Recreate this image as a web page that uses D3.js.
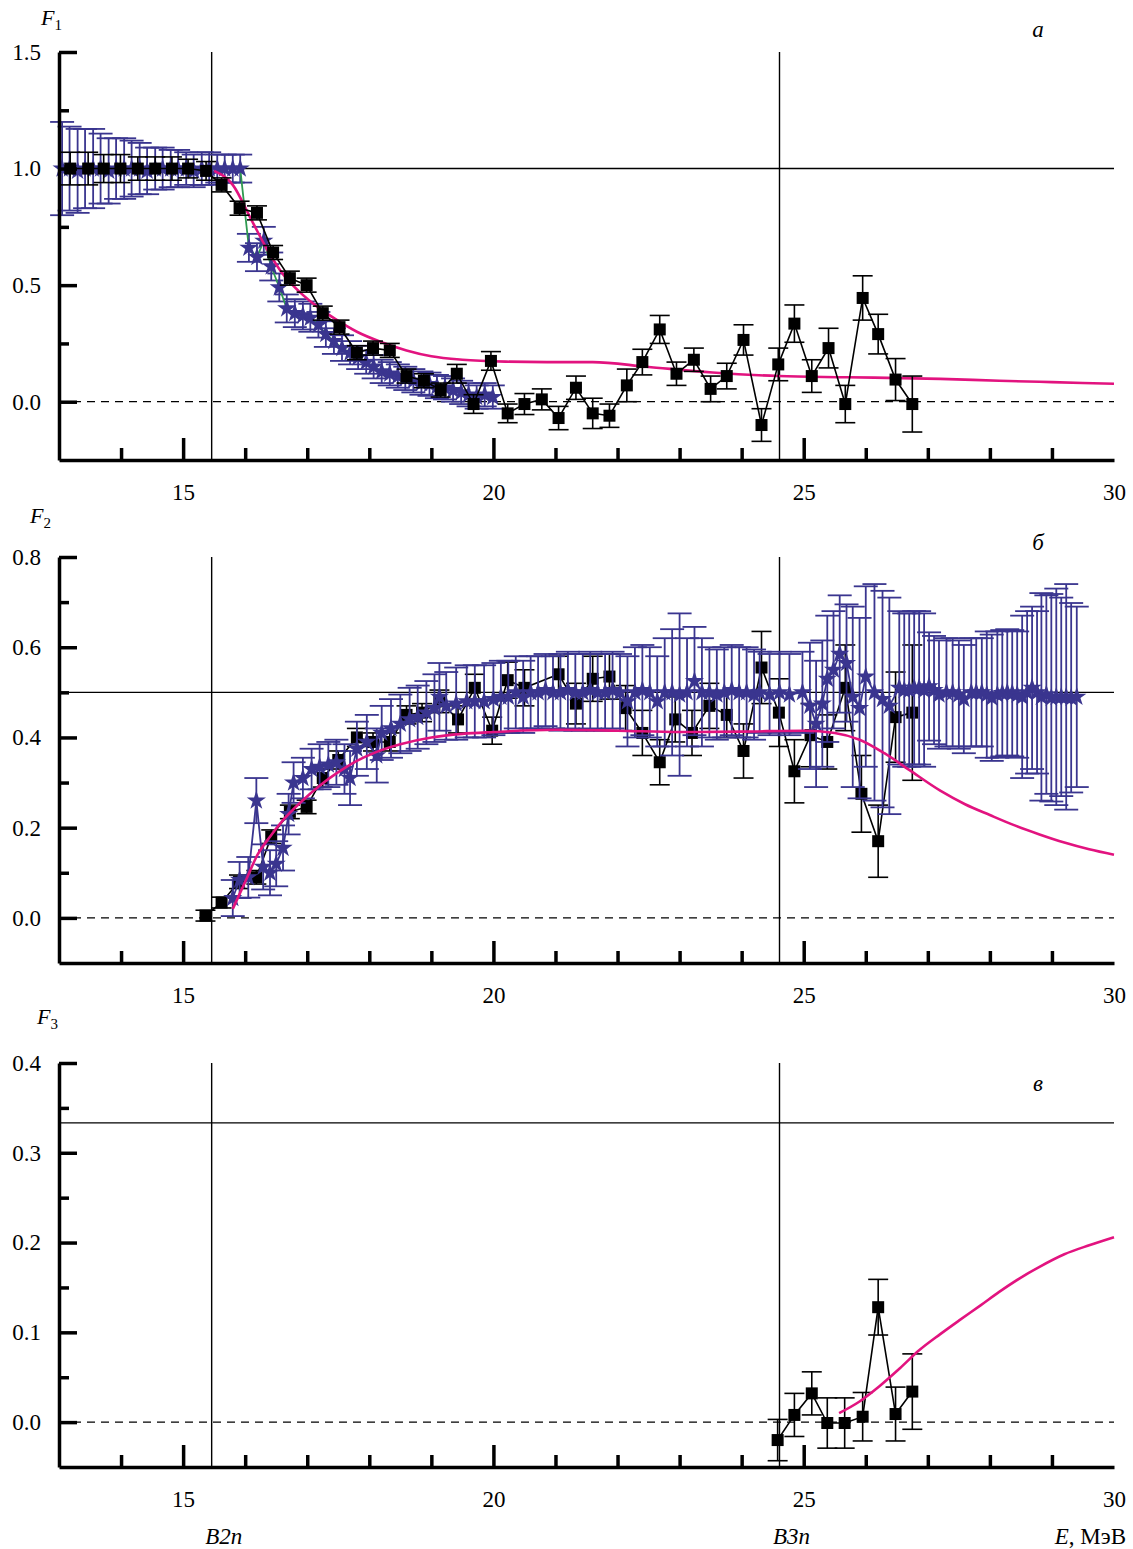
<!DOCTYPE html>
<html>
<head>
<meta charset="utf-8">
<script src="https://cdn.jsdelivr.net/npm/d3@7"></script>
<style>
  body { margin: 0; background: #fff; }
  svg { display: block; }
  text { font-family: "Liberation Serif", "DejaVu Serif", serif; fill: #000; }
</style>
</head>
<body>
<svg id="chart" width="1133" height="1549"></svg>
<script>
// E (MeV) range shared by all three panels
const eDomain = [13, 30];
const xTickLabels = [15, 20, 25, 30];
const xMinorTicks = [14, 16, 17, 18, 19, 21, 22, 23, 24, 26, 27, 28, 29];
const xMajorTicks = [15, 20, 25];

// threshold energies
const thresholds = [15.46, 24.61];
const thresholdLabels = ['B2n', 'B3n'];

// rows: [E, F, dF]
const aSquares = [
  [13.18,1.0,0.07],[13.47,1.0,0.07],[13.72,1.0,0.06],[13.99,1.0,0.06],[14.27,1.0,0.05],[14.55,1.0,0.05],
  [14.82,1.0,0.05],[15.08,1.0,0.04],[15.37,0.99,0.04],[15.62,0.93,0.03],[15.91,0.83,0.03],[16.19,0.81,0.03],
  [16.45,0.64,0.03],[16.72,0.53,0.03],[16.99,0.50,0.03],[17.25,0.38,0.03],[17.52,0.32,0.03],[17.80,0.21,0.03],
  [18.06,0.23,0.03],[18.33,0.22,0.03],[18.60,0.11,0.03],[18.88,0.09,0.03],[19.15,0.05,0.03],[19.41,0.12,0.04],
  [19.68,-0.01,0.04],[19.96,0.175,0.04],[20.23,-0.05,0.04],[20.50,-0.01,0.045],[20.78,0.01,0.045],[21.05,-0.07,0.05],
  [21.33,0.06,0.05],[21.60,-0.05,0.065],[21.87,-0.06,0.05],[22.15,0.07,0.07],[22.40,0.17,0.055],[22.68,0.31,0.06],
  [22.95,0.12,0.05],[23.23,0.18,0.05],[23.50,0.055,0.055],[23.76,0.11,0.055],[24.03,0.265,0.065],[24.32,-0.10,0.07],
  [24.59,0.16,0.07],[24.85,0.335,0.08],[25.13,0.11,0.07],[25.40,0.23,0.085],[25.67,-0.01,0.08],[25.95,0.445,0.095],
  [26.20,0.29,0.085],[26.48,0.095,0.09],[26.75,-0.01,0.12]
];
const aStars = [
  [13.05,1.0,0.2],[13.17,1.0,0.18],[13.30,0.99,0.18],[13.42,1.0,0.17],[13.55,1.0,0.17],[13.67,1.0,0.15],
  [13.80,0.99,0.14],[13.92,1.0,0.13],[14.05,1.0,0.13],[14.17,1.0,0.12],[14.30,1.0,0.11],[14.42,0.99,0.10],
  [14.55,1.0,0.09],[14.67,1.0,0.09],[14.80,1.0,0.08],[14.92,1.0,0.08],[15.05,1.0,0.07],[15.17,0.99,0.07],
  [15.30,1.0,0.07],[15.42,1.0,0.07],[15.55,1.0,0.06],[15.67,1.0,0.06],[15.80,1.0,0.06],[15.92,1.0,0.06],
  [16.06,0.66,0.06],[16.19,0.62,0.06],[16.30,0.69,0.06],[16.42,0.58,0.06],[16.55,0.49,0.06],[16.67,0.40,0.06],
  [16.80,0.38,0.06],[16.93,0.37,0.06],[17.05,0.36,0.06],[17.18,0.33,0.055],[17.30,0.29,0.055],[17.43,0.26,0.055],
  [17.56,0.23,0.055],[17.69,0.21,0.05],[17.82,0.19,0.05],[17.95,0.17,0.05],[18.07,0.15,0.05],[18.20,0.13,0.05],
  [18.33,0.12,0.05],[18.46,0.11,0.05],[18.58,0.10,0.05],[18.71,0.09,0.05],[18.84,0.08,0.05],[18.97,0.075,0.05],
  [19.09,0.065,0.05],[19.22,0.06,0.05],[19.35,0.05,0.05],[19.48,0.04,0.05],[19.60,0.03,0.05],[19.73,0.02,0.05],
  [19.86,0.03,0.05],[19.99,0.02,0.05]
];
// rows: [E, F]
const aTheory = [
  [15.5,0.99],[15.8,0.93],[16.1,0.78],[16.35,0.655],[16.6,0.55],[16.88,0.47],[17.15,0.41],[17.45,0.355],
  [17.8,0.30],[18.2,0.255],[18.6,0.22],[19.0,0.195],[19.5,0.18],[20.2,0.172],[20.86,0.17],[21.6,0.17],
  [22.47,0.15],[23.53,0.125],[24.6,0.11],[25.7,0.105],[27.2,0.098],[28.15,0.09],[29.0,0.084],[30.0,0.077]
];

const bSquares = [
  [15.36,0.005,0.012],[15.62,0.034,0.012],[15.90,0.08,0.015],[16.18,0.09,0.015],[16.42,0.18,0.015],[16.72,0.235,0.015],
  [16.99,0.246,0.015],[17.25,0.31,0.02],[17.50,0.35,0.02],[17.80,0.40,0.02],[18.06,0.39,0.02],[18.33,0.39,0.02],
  [18.60,0.45,0.02],[18.85,0.455,0.02],[19.13,0.48,0.025],[19.43,0.44,0.03],[19.70,0.51,0.03],[19.98,0.415,0.03],
  [20.23,0.527,0.04],[20.50,0.51,0.04],[21.05,0.54,0.04],[21.33,0.475,0.045],[21.60,0.53,0.05],[21.87,0.535,0.05],
  [22.13,0.465,0.05],[22.40,0.41,0.05],[22.68,0.345,0.05],[22.93,0.44,0.05],[23.20,0.41,0.05],[23.48,0.47,0.05],
  [23.76,0.45,0.05],[24.03,0.37,0.06],[24.32,0.555,0.08],[24.60,0.455,0.075],[24.85,0.325,0.07],[25.11,0.405,0.07],
  [25.38,0.39,0.06],[25.67,0.51,0.095],[25.93,0.275,0.085],[26.20,0.17,0.08],[26.48,0.445,0.1],[26.75,0.455,0.15]
];
const bStars = [
  [15.80,0.044,0.04],[15.91,0.084,0.04],[16.05,0.09,0.045],[16.18,0.26,0.05],[16.29,0.113,0.05],[16.40,0.10,0.05],
  [16.50,0.12,0.05],[16.61,0.155,0.05],[16.70,0.23,0.045],[16.78,0.30,0.045],[16.93,0.31,0.045],[17.07,0.33,0.045],
  [17.20,0.335,0.05],[17.34,0.34,0.05],[17.47,0.345,0.05],[17.60,0.33,0.055],[17.69,0.31,0.06],[17.80,0.375,0.06],
  [17.96,0.39,0.06],[18.12,0.36,0.06],[18.20,0.41,0.06],[18.35,0.42,0.065],[18.50,0.43,0.065],[18.65,0.44,0.07],
  [18.78,0.445,0.07],[18.92,0.455,0.07],[19.05,0.465,0.075],[19.13,0.49,0.075],[19.24,0.47,0.075],[19.40,0.475,0.08],
  [19.57,0.48,0.08],[19.70,0.48,0.08],[19.85,0.48,0.08],[20.00,0.485,0.08],
  [20.12,0.49,0.08],[20.24,0.49,0.08],[20.36,0.50,0.08],[20.48,0.49,0.08],[20.60,0.50,0.08],[20.72,0.50,0.08],
  [20.84,0.505,0.08],[20.96,0.50,0.08],[21.08,0.50,0.085],[21.20,0.505,0.085],[21.32,0.50,0.085],[21.44,0.50,0.085],
  [21.56,0.505,0.085],[21.68,0.50,0.085],[21.80,0.50,0.085],[21.92,0.505,0.085],[22.04,0.50,0.085],
  [22.16,0.48,0.1],[22.28,0.50,0.1],[22.40,0.505,0.1],[22.52,0.50,0.1],[22.64,0.48,0.1],
  [22.76,0.50,0.12],[22.88,0.50,0.14],[23.00,0.495,0.18],[23.12,0.50,0.12],[23.24,0.525,0.12],[23.36,0.50,0.12],
  [23.48,0.50,0.1],[23.60,0.495,0.1],[23.72,0.50,0.1],[23.84,0.505,0.1],[23.96,0.50,0.1],[24.08,0.50,0.1],[24.20,0.495,0.1],
  [24.29,0.50,0.09],[24.45,0.495,0.09],[24.61,0.50,0.09],[24.77,0.495,0.09],[24.98,0.50,0.09],
  [25.10,0.47,0.14],[25.20,0.43,0.14],[25.30,0.475,0.14],[25.38,0.53,0.14],
  [25.48,0.55,0.13],[25.58,0.585,0.13],[25.69,0.565,0.13],
  [25.79,0.49,0.2],[25.90,0.465,0.2],[26.00,0.535,0.2],
  [26.14,0.50,0.24],[26.27,0.485,0.24],[26.38,0.47,0.24],
  [26.54,0.51,0.17],[26.62,0.505,0.17],[26.70,0.505,0.17],[26.78,0.51,0.17],[26.86,0.51,0.17],[26.94,0.505,0.17],
  [27.02,0.513,0.12],[27.10,0.505,0.12],[27.18,0.495,0.12],[27.30,0.50,0.12],[27.40,0.50,0.12],[27.50,0.495,0.12],
  [27.58,0.485,0.12],[27.70,0.50,0.12],[27.78,0.50,0.12],[27.87,0.50,0.12],
  [27.95,0.495,0.14],[28.03,0.488,0.14],[28.12,0.495,0.14],[28.20,0.498,0.14],[28.28,0.50,0.14],[28.36,0.498,0.14],[28.44,0.495,0.14],
  [28.52,0.49,0.18],[28.60,0.50,0.18],[28.68,0.51,0.18],[28.76,0.50,0.18],
  [28.83,0.49,0.23],[28.91,0.495,0.22],[28.99,0.488,0.23],[29.07,0.49,0.24],[29.15,0.49,0.22],[29.23,0.49,0.25],
  [29.31,0.488,0.21],[29.40,0.49,0.2]
];
const bTheory = [
  [15.8,0.02],[16.0,0.08],[16.2,0.14],[16.4,0.18],[16.6,0.215],[16.9,0.257],[17.2,0.293],[17.5,0.323],
  [17.8,0.348],[18.1,0.367],[18.5,0.385],[19.0,0.40],[19.5,0.408],[20.0,0.412],[21.0,0.417],[22.0,0.415],
  [23.0,0.412],[24.0,0.413],[25.0,0.415],[25.5,0.41],[25.9,0.395],[26.3,0.365],[26.7,0.328],[27.2,0.282],
  [27.6,0.252],[28.0,0.228],[28.4,0.205],[28.8,0.185],[29.2,0.167],[29.6,0.152],[30.0,0.14]
];

const cSquares = [
  [24.58,-0.02,0.023],[24.85,0.008,0.024],[25.13,0.032,0.024],[25.38,-0.001,0.028],[25.66,-0.001,0.028],
  [25.95,0.006,0.027],[26.20,0.128,0.031],[26.48,0.009,0.03],[26.75,0.034,0.042]
];
const cTheory = [
  [25.57,0.01],[25.9,0.023],[26.22,0.04],[26.55,0.06],[26.86,0.08],[27.2,0.098],[27.5,0.113],[27.85,0.13],
  [28.15,0.145],[28.5,0.161],[28.8,0.173],[29.2,0.187],[29.6,0.197],[30.0,0.206]
];

const aYMajor = [0, 0.5, 1.0, 1.5], aYMinor = [0.25, 0.75, 1.25];
const bYMajor = [0, 0.2, 0.4, 0.6, 0.8], bYMinor = [0.1, 0.3, 0.5, 0.7];
const cYMajor = [0, 0.1, 0.2, 0.3, 0.4], cYMinor = [0.05, 0.15, 0.25, 0.35];

const BLUE = '#3a358f', MAGENTA = '#e2137f', GREEN = '#2f9a50';

const panels = [
  { letter: 'а', sub: '1', yDomain: [-0.25, 1.5], top: 52, bottom: 460, major: aYMajor, minor: aYMinor,
    ref: 1.0, squares: aSquares, stars: aStars, starLine: GREEN, theory: aTheory, starsFirst: true,
    letterY: 37, fX: 41, fY: 25 },
  { letter: 'б', sub: '2', yDomain: [-0.1, 0.8], top: 557, bottom: 963, major: bYMajor, minor: bYMinor,
    ref: 0.5, squares: bSquares, stars: bStars, starLine: BLUE, theory: bTheory, starsFirst: false,
    letterY: 550, fX: 30, fY: 523 },
  { letter: 'в', sub: '3', yDomain: [-0.05, 0.4], top: 1063, bottom: 1467, major: cYMajor, minor: cYMinor,
    ref: 1 / 3, squares: cSquares, stars: [], starLine: BLUE, theory: cTheory, starsFirst: false,
    letterY: 1091, fX: 37, fY: 1024 }
];

const svg = d3.select('#chart');
const x = d3.scaleLinear().domain(eDomain).range([59, 1114]);

let drawErrors = (g, rows, y, color, cap, width) => {
  let eb = g.append('g').attr('stroke', color).attr('stroke-width', width).attr('fill', 'none');
  rows.forEach(d => {
    let cx = x(d[0]), y1 = y(d[1] + d[2]), y2 = y(d[1] - d[2]);
    eb.append('line').attr('x1', cx).attr('x2', cx).attr('y1', y1).attr('y2', y2);
    eb.append('line').attr('x1', cx - cap).attr('x2', cx + cap).attr('y1', y1).attr('y2', y1);
    eb.append('line').attr('x1', cx - cap).attr('x2', cx + cap).attr('y1', y2).attr('y2', y2);
  });
};

let drawLine = (g, rows, y, color, width, curve) => {
  let line = d3.line().x(d => x(d[0])).y(d => y(d[1]));
  if (curve) line.curve(curve);
  g.append('path').datum(rows)
    .attr('d', line)
    .attr('fill', 'none')
    .attr('stroke', color)
    .attr('stroke-width', width);
};

let drawSquares = (g, rows, y) => {
  g.append('g').selectAll('rect').data(rows).enter().append('rect')
    .attr('x', d => x(d[0]) - 6)
    .attr('y', d => y(d[1]) - 6)
    .attr('width', 12).attr('height', 12)
    .attr('fill', '#000');
};

let drawStars = (g, rows, y) => {
  let sym = d3.symbol().type(d3.symbolStar).size(115);
  g.append('g').selectAll('path').data(rows).enter().append('path')
    .attr('d', sym)
    .attr('transform', d => 'translate(' + x(d[0]) + ',' + y(d[1]) + ')')
    .attr('fill', BLUE);
};

panels.forEach(p => {
  let y = d3.scaleLinear().domain(p.yDomain).range([p.bottom, p.top]);
  let g = svg.append('g');

  // reference lines
  g.append('line').attr('x1', x(eDomain[0])).attr('x2', x(eDomain[1]))
    .attr('y1', y(p.ref)).attr('y2', y(p.ref)).attr('stroke', '#000').attr('stroke-width', 1.4);
  g.append('line').attr('x1', x(eDomain[0])).attr('x2', x(eDomain[1]))
    .attr('y1', y(0)).attr('y2', y(0)).attr('stroke', '#000').attr('stroke-width', 1.3)
    .attr('stroke-dasharray', '8,6');
  thresholds.forEach(t => {
    g.append('line').attr('x1', x(t)).attr('x2', x(t))
      .attr('y1', p.top).attr('y2', p.bottom).attr('stroke', '#000').attr('stroke-width', 1.4);
  });

  let drawStarSeries = () => {
    if (!p.stars.length) return;
    drawErrors(g, p.stars, y, BLUE, 12, 1.8);
    drawLine(g, p.stars, y, p.starLine, 1.8);
    drawStars(g, p.stars, y);
  };
  let drawSquareSeries = () => {
    drawErrors(g, p.squares, y, '#000', 10, 1.6);
    drawLine(g, p.squares, y, '#000', 1.6);
    drawSquares(g, p.squares, y);
  };

  if (p.starsFirst) {
    drawStarSeries();
    drawLine(g, p.theory, y, MAGENTA, 2.6, d3.curveMonotoneX);
    drawSquareSeries();
  } else {
    drawSquareSeries();
    drawStarSeries();
    drawLine(g, p.theory, y, MAGENTA, 2.6, d3.curveMonotoneX);
  }

  // y axis: inward ticks, labels on the left
  g.append('g').attr('transform', 'translate(' + x(eDomain[0]) + ',0)')
    .call(d3.axisLeft(y).tickValues(p.major).tickSizeInner(-18).tickSizeOuter(0)
      .tickPadding(18).tickFormat(d3.format('.1f')));
  g.append('g').attr('transform', 'translate(' + x(eDomain[0]) + ',0)')
    .call(d3.axisLeft(y).tickValues(p.minor).tickSizeInner(-10).tickSizeOuter(0).tickFormat(''))
    .call(a => a.select('.domain').remove());

  // x axis
  g.append('g').attr('transform', 'translate(0,' + p.bottom + ')')
    .call(d3.axisBottom(x).tickValues(xTickLabels).tickSize(0).tickPadding(24).tickFormat(d3.format('d')));
  g.append('g').attr('transform', 'translate(0,' + p.bottom + ')')
    .call(d3.axisBottom(x).tickValues(xMajorTicks).tickSizeInner(-22).tickSizeOuter(0).tickFormat(''))
    .call(a => a.select('.domain').remove());
  g.append('g').attr('transform', 'translate(0,' + p.bottom + ')')
    .call(d3.axisBottom(x).tickValues(xMinorTicks).tickSizeInner(-12).tickSizeOuter(0).tickFormat(''))
    .call(a => a.select('.domain').remove());

  g.selectAll('.domain').attr('stroke', '#000').attr('stroke-width', 3.5);
  g.selectAll('.tick line').attr('stroke', '#000').attr('stroke-width', 3.5);
  g.selectAll('.tick text').attr('font-family', '"Liberation Serif", serif').attr('font-size', 23).attr('fill', '#000');

  // panel letter
  g.append('text').attr('x', 1038).attr('y', p.letterY).attr('text-anchor', 'middle')
    .attr('font-size', 23).attr('font-style', 'italic').text(p.letter);

  // F_n label
  let f = g.append('text').attr('x', p.fX).attr('y', p.fY).attr('font-size', 22);
  f.append('tspan').attr('font-style', 'italic').text('F');
  f.append('tspan').attr('font-size', 15).attr('dy', 5).text(p.sub);
});

// bottom labels
thresholds.forEach((t, i) => {
  svg.append('text').attr('x', x(t) + 12).attr('y', 1544).attr('text-anchor', 'middle')
    .attr('font-size', 23).attr('font-style', 'italic').text(thresholdLabels[i]);
});
let eLab = svg.append('text').attr('x', 1126).attr('y', 1544).attr('text-anchor', 'end').attr('font-size', 23);
eLab.append('tspan').attr('font-style', 'italic').text('E');
eLab.append('tspan').text(', МэВ');
</script>
</body>
</html>
